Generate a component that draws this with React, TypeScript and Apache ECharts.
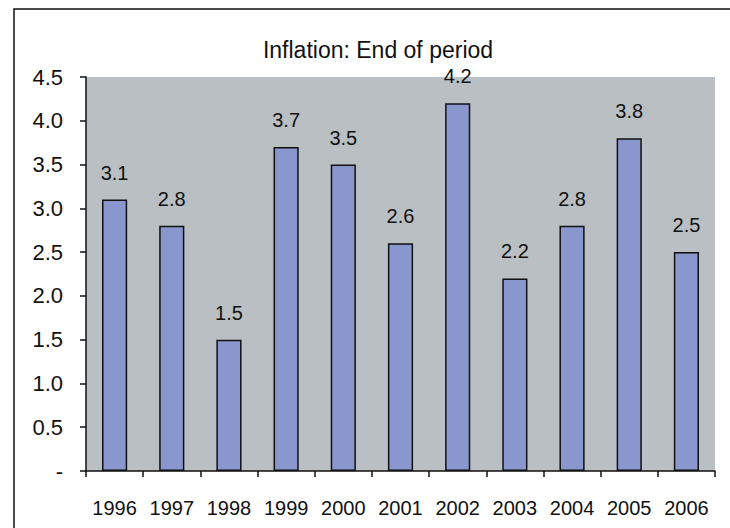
import React, { useEffect, useRef } from "react";
import * as echarts from "echarts";

const years = ["1996", "1997", "1998", "1999", "2000", "2001", "2002", "2003", "2004", "2005", "2006"];
const inflation = [3.1, 2.8, 1.5, 3.7, 3.5, 2.6, 4.2, 2.2, 2.8, 3.8, 2.5];
const chartTitle = "Inflation: End of period";

export default function App() {
  const ref = useRef<HTMLDivElement>(null);
  useEffect(() => {
    if (!ref.current) return;
    const chart = echarts.init(ref.current, null, { renderer: "svg" });
    const font = "'Liberation Sans', Arial, sans-serif";
    chart.setOption({
      animation: false,
      backgroundColor: "#ffffff",
      title: {
        text: chartTitle,
        left: 373,
        textAlign: "center",
        top: 33,
        textStyle: { fontFamily: font, fontSize: 23, fontWeight: "normal", color: "#111" },
      },
      graphic: [
        {
          type: "rect",
          shape: { x: 14, y: 9, width: 740, height: 540 },
          style: { fill: "none", stroke: "#111", lineWidth: 1.5 },
          silent: true,
        },
      ],
      grid: {
        left: 86,
        right: 15,
        top: 77,
        bottom: 57,
        show: true,
        backgroundColor: "#b9bfc2",
        borderWidth: 0,
      },
      xAxis: {
        type: "category",
        data: years,
        axisLine: { lineStyle: { color: "#111", width: 1.5 } },
        axisTick: { show: true, alignWithLabel: false, length: 6, inside: false, lineStyle: { color: "#111", width: 1.5 } },
        axisLabel: { fontFamily: font, fontSize: 20, color: "#111", margin: 27, interval: 0 },
      },
      yAxis: {
        type: "value",
        min: 0,
        max: 4.5,
        interval: 0.5,
        splitLine: { show: false },
        axisLine: { show: true, lineStyle: { color: "#111", width: 1.5 } },
        axisTick: { show: true, length: 6, lineStyle: { color: "#111", width: 1.5 } },
        axisLabel: {
          fontFamily: font,
          fontSize: 22,
          color: "#111",
          margin: 23,
          formatter: (v: number) => (v === 0 ? "-" : v.toFixed(1)),
        },
      },
      series: [
        {
          type: "bar",
          data: inflation,
          barWidth: "44%",
          itemStyle: { color: "#8a97cf", borderColor: "#111", borderWidth: 1.5 },
          label: {
            show: true,
            position: "top",
            distance: 17,
            fontFamily: font,
            fontSize: 20,
            color: "#111",
            formatter: (p: any) => p.value.toFixed(1),
          },
        },
      ],
    });
    return () => chart.dispose();
  }, []);
  return <div ref={ref} style={{ position: "fixed", left: 0, top: 0, width: 730, height: 528 }} />;
}
